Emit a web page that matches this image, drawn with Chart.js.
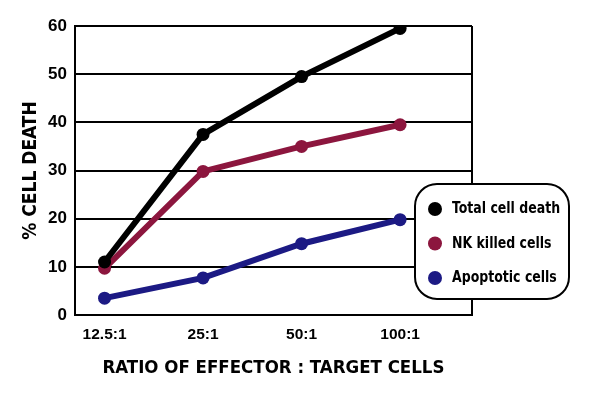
<!DOCTYPE html>
<html>
<head>
<meta charset="utf-8">
<script src="https://cdn.jsdelivr.net/npm/chart.js@4.4.1/dist/chart.umd.min.js"></script>
<style>
  html, body { margin: 0; background: #fff; }
  #wrap { width: 590px; height: 400px; }
</style>
</head>
<body>
<div id="wrap"><canvas id="chart"></canvas></div>
<script>
// values
const ratios = ["12.5:1", "25:1", "50:1", "100:1"];
const totalDeath = [11, 37.5, 49.5, 59.5];
const nkKilled = [9.7, 29.8, 35, 39.5];
const apoptotic = [3.5, 7.7, 14.8, 19.8];
const seriesNames = ["Total cell death", "NK killed cells", "Apoptotic cells"];
const seriesColors = ["#000000", "#8c163e", "#1c1a84"];

const condensed = "'DejaVu Sans Condensed', 'Liberation Sans Narrow', sans-serif";

// turn a list of values into x/y points on the ratio index axis
const toPoints = (vals) => vals.map((v, i) => ({ x: i, y: v }));

function makeSet(label, vals, color) {
  return {
    label: label,
    data: toPoints(vals),
    borderColor: color,
    backgroundColor: color,
    borderWidth: 6,
    pointRadius: 6.5,
    pointBorderWidth: 0,
    tension: 0,
  };
}

// rounded legend box drawn over the right edge of the plot
const boxLegend = {
  id: "boxLegend",
  afterDraw(chart) {
    const ctx = chart.ctx;
    const x = 415, y = 184, w = 154, h = 115, r = 22;
    ctx.save();
    ctx.beginPath();
    ctx.roundRect(x, y, w, h, r);
    ctx.fillStyle = "#fff";
    ctx.fill();
    ctx.lineWidth = 2;
    ctx.strokeStyle = "#000";
    ctx.stroke();
    ctx.font = "bold 16px " + condensed;
    ctx.textBaseline = "middle";
    chart.data.datasets.forEach((ds, i) => {
      const cy = y + 25 + i * 34.5;
      ctx.beginPath();
      ctx.arc(x + 20, cy, 7, 0, Math.PI * 2);
      ctx.fillStyle = ds.borderColor;
      ctx.fill();
      ctx.fillStyle = "#000";
      // squeeze the text a little, the original face is narrow
      const tw = ctx.measureText(ds.label).width;
      ctx.fillText(ds.label, x + 37, cy, tw * 0.87);
    });
    ctx.restore();
  },
};

// right border of the plot frame
const frame = {
  id: "frame",
  beforeDatasetsDraw(chart) {
    const { ctx, chartArea } = chart;
    ctx.save();
    ctx.strokeStyle = "#000";
    ctx.lineWidth = 2;
    ctx.beginPath();
    ctx.moveTo(chartArea.right, chartArea.top);
    ctx.lineTo(chartArea.right, chartArea.bottom);
    ctx.stroke();
    ctx.restore();
  },
};

new Chart(document.getElementById("chart"), {
  type: "line",
  data: {
    datasets: [
      makeSet(seriesNames[0], totalDeath, seriesColors[0]),
      makeSet(seriesNames[1], nkKilled, seriesColors[1]),
      makeSet(seriesNames[2], apoptotic, seriesColors[2]),
    ],
  },
  options: {
    responsive: true,
    maintainAspectRatio: false,
    animation: false,
    layout: { padding: { left: 0, right: 118, top: 26, bottom: 0 } },
    plugins: {
      legend: { display: false },
      tooltip: { enabled: false },
    },
    scales: {
      x: {
        type: "linear",
        min: -0.3,
        max: 3.73,
        afterBuildTicks: (scale) => {
          scale.ticks = ratios.map((_, i) => ({ value: i }));
        },
        afterFit: (scale) => { scale.height = 85; },
        grid: { display: false, drawTicks: false },
        border: { display: true, color: "#000", width: 2 },
        ticks: {
          padding: 10,
          color: "#000",
          font: { family: "'Liberation Sans', sans-serif", size: 15.5, weight: "bold" },
          callback: (v) => ratios[v],
        },
        title: {
          display: true,
          text: "RATIO OF EFFECTOR : TARGET CELLS",
          color: "#000",
          font: { family: condensed, size: 18.5, weight: "bold" },
          padding: { top: 21, bottom: 21 },
        },
      },
      y: {
        min: 0,
        max: 60,
        afterFit: (scale) => { scale.width = 75; },
        grid: { color: "#000", lineWidth: 2, drawTicks: false },
        border: { display: true, color: "#000", width: 2 },
        ticks: {
          stepSize: 10,
          padding: 8,
          color: "#000",
          font: { family: "'Liberation Sans', sans-serif", size: 17, weight: "bold" },
        },
        title: {
          display: true,
          text: "% CELL DEATH",
          color: "#000",
          font: { family: condensed, size: 19, weight: "bold" },
          padding: { top: 20, bottom: 20 },
        },
      },
    },
  },
  plugins: [frame, boxLegend],
});
</script>
</body>
</html>
